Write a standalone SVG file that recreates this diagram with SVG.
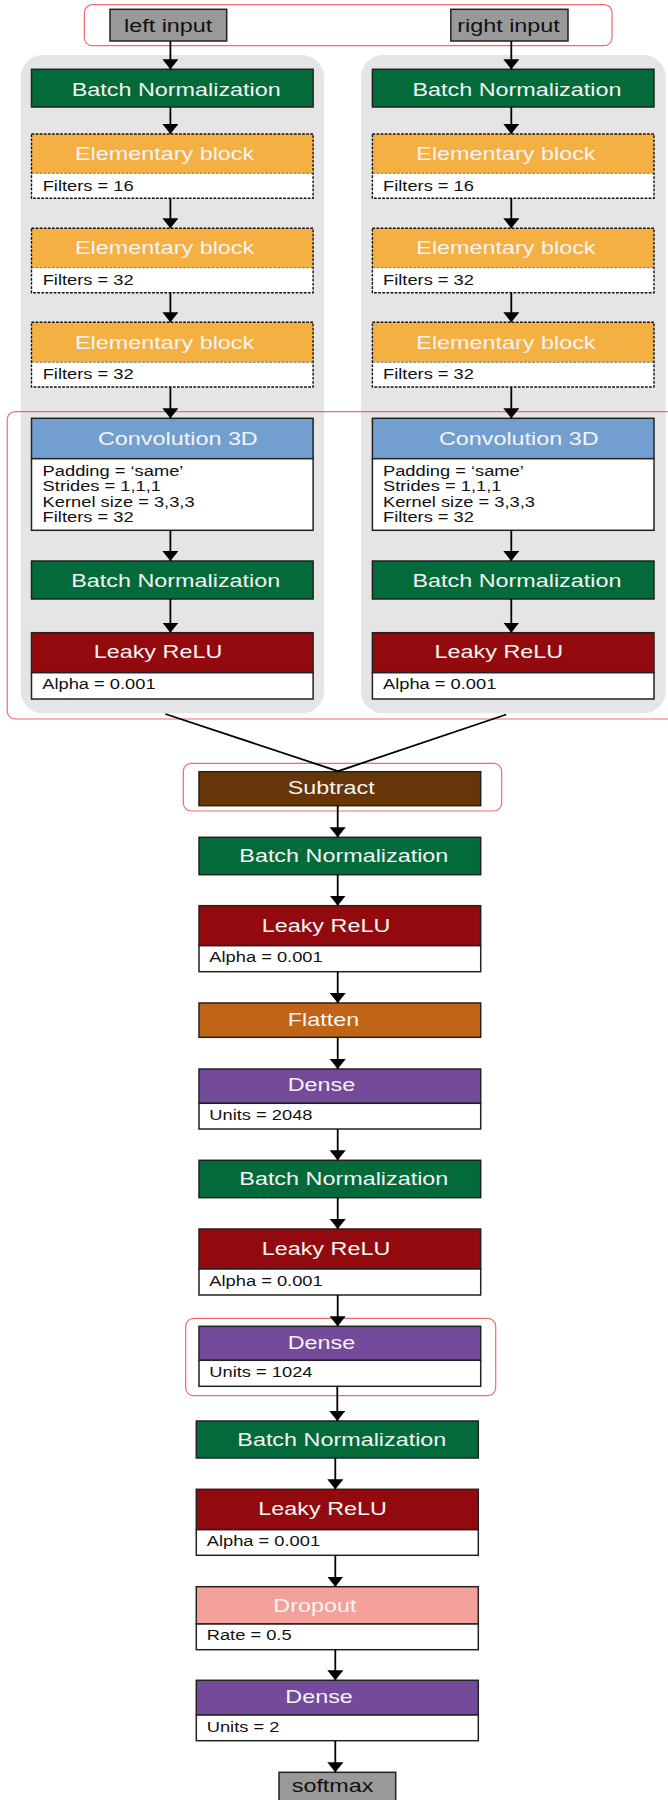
<svg xmlns="http://www.w3.org/2000/svg" width="668" height="1800" viewBox="0 0 668 1800">
<style>
.h{font-family:"Liberation Sans",Arial,sans-serif;font-size:18.7px;fill:#f4f4f4}
.k{font-family:"Liberation Sans",Arial,sans-serif;font-size:18.7px;fill:#111}
.d{font-family:"Liberation Sans",Arial,sans-serif;font-size:15px;fill:#111}
.box{stroke:#222;stroke-width:1.5}
.dot{stroke:#111;stroke-width:1.4;stroke-dasharray:2.7 1.4}
.div{stroke:#555;stroke-width:0.8;stroke-dasharray:2.7 1.4}
.wh{fill:#fff}
.bn{fill:#036a3a}
.eb{fill:#f4b043}
.cv{fill:#729fcf}
.lr{fill:#920a0e}
.sb{fill:#663508}
.fl{fill:#c06418}
.dn{fill:#744a9a}
.dr{fill:#f5a19b}
.gy{fill:#999}
.panel{fill:#e5e5e5}
.red{fill:none;stroke:#f06a6a;stroke-width:1.2}
.c{stroke:#000;stroke-width:1.8;fill:none}
</style>
<defs>
<marker id="ah" markerWidth="10" markerHeight="16" refX="10" refY="8" orient="auto" markerUnits="userSpaceOnUse"><path d="M0,0 L10,8 L0,16 z" fill="#000"/></marker>
</defs>

<g id="panels">
<rect class="panel" x="20.7" y="55" width="303.3" height="658.3" rx="22"/>
<rect class="panel" x="361" y="55" width="304.7" height="658.3" rx="22"/>
</g>

<g id="highlights">
<rect class="red" x="84.4" y="4.7" width="527.6" height="41" rx="8"/>
<rect class="red" x="7.2" y="411.7" width="680" height="307.3" rx="8"/>
<rect class="red" x="183.3" y="763.3" width="318.4" height="47.7" rx="8"/>
<rect class="red" x="185.7" y="1318.3" width="310" height="77.4" rx="8"/>
</g>

<g id="left-input">
<rect class="box gy" x="110" y="9.3" width="116.7" height="31.7"/>
<text class="k" transform="translate(124 31.7) scale(1.25 1)">left input</text>
</g>
<g id="right-input">
<rect class="box gy" x="450.8" y="9.3" width="117.2" height="31.7"/>
<text class="k" transform="translate(457.2 31.7) scale(1.25 1)">right input</text>
</g>

<g id="L-bn1">
<rect class="box bn" x="31.5" y="69.3" width="281.6" height="37.7"/>
<text class="h" transform="translate(71.7 95.7) scale(1.25 1)">Batch Normalization</text>
</g>
<g id="L-eb1">
<rect class="eb" x="31.5" y="134" width="281.6" height="39.3"/>
<rect class="wh" x="31.5" y="173.3" width="281.6" height="25"/>
<rect class="dot" fill="none" x="31.5" y="134" width="281.6" height="64.3"/>
<line class="div" x1="31.5" y1="173.3" x2="313.1" y2="173.3"/>
<text class="h" transform="translate(75 159.5) scale(1.25 1)">Elementary block</text>
<text class="d" transform="translate(42.7 190.7) scale(1.22 1)">Filters = 16</text>
</g>
<g id="L-eb2">
<rect class="eb" x="31.5" y="228.3" width="281.6" height="39.4"/>
<rect class="wh" x="31.5" y="267.7" width="281.6" height="25"/>
<rect class="dot" fill="none" x="31.5" y="228.3" width="281.6" height="64.4"/>
<line class="div" x1="31.5" y1="267.7" x2="313.1" y2="267.7"/>
<text class="h" transform="translate(75 254) scale(1.25 1)">Elementary block</text>
<text class="d" transform="translate(42.7 285.3) scale(1.22 1)">Filters = 32</text>
</g>
<g id="L-eb3">
<rect class="eb" x="31.5" y="322.3" width="281.6" height="40"/>
<rect class="wh" x="31.5" y="362.3" width="281.6" height="24.7"/>
<rect class="dot" fill="none" x="31.5" y="322.3" width="281.6" height="64.7"/>
<line class="div" x1="31.5" y1="362.3" x2="313.1" y2="362.3"/>
<text class="h" transform="translate(75 348.5) scale(1.25 1)">Elementary block</text>
<text class="d" transform="translate(42.7 379.3) scale(1.22 1)">Filters = 32</text>
</g>
<g id="L-conv">
<rect class="box cv" x="31.5" y="418.3" width="281.6" height="40.4"/>
<rect class="box wh" x="31.5" y="458.7" width="281.6" height="71.6"/>
<text class="h" transform="translate(98 445) scale(1.25 1)">Convolution 3D</text>
<text class="d" transform="translate(42.6 475.7) scale(1.22 1)">Padding = ‘same’</text>
<text class="d" transform="translate(42.6 491.3) scale(1.22 1)">Strides = 1,1,1</text>
<text class="d" transform="translate(42.6 507) scale(1.22 1)">Kernel size = 3,3,3</text>
<text class="d" transform="translate(42.6 522.3) scale(1.22 1)">Filters = 32</text>
</g>
<g id="L-bn2">
<rect class="box bn" x="31.5" y="561" width="281.6" height="38"/>
<text class="h" transform="translate(71.2 587.3) scale(1.25 1)">Batch Normalization</text>
</g>
<g id="L-relu">
<rect class="box lr" x="31.5" y="632.7" width="281.6" height="40"/>
<rect class="box wh" x="31.5" y="672.7" width="281.6" height="26.3"/>
<text class="h" transform="translate(93.7 658.3) scale(1.25 1)">Leaky ReLU</text>
<text class="d" transform="translate(42.2 689.3) scale(1.22 1)">Alpha = 0.001</text>
</g>

<g id="R-bn1">
<rect class="box bn" x="372.4" y="69.3" width="281.6" height="37.7"/>
<text class="h" transform="translate(412.4 95.7) scale(1.25 1)">Batch Normalization</text>
</g>
<g id="R-eb1">
<rect class="eb" x="372.4" y="134" width="281.6" height="39.3"/>
<rect class="wh" x="372.4" y="173.3" width="281.6" height="25"/>
<rect class="dot" fill="none" x="372.4" y="134" width="281.6" height="64.3"/>
<line class="div" x1="372.4" y1="173.3" x2="654" y2="173.3"/>
<text class="h" transform="translate(416.3 159.5) scale(1.25 1)">Elementary block</text>
<text class="d" transform="translate(383 190.7) scale(1.22 1)">Filters = 16</text>
</g>
<g id="R-eb2">
<rect class="eb" x="372.4" y="228.3" width="281.6" height="39.4"/>
<rect class="wh" x="372.4" y="267.7" width="281.6" height="25"/>
<rect class="dot" fill="none" x="372.4" y="228.3" width="281.6" height="64.4"/>
<line class="div" x1="372.4" y1="267.7" x2="654" y2="267.7"/>
<text class="h" transform="translate(416.3 254) scale(1.25 1)">Elementary block</text>
<text class="d" transform="translate(383 285.3) scale(1.22 1)">Filters = 32</text>
</g>
<g id="R-eb3">
<rect class="eb" x="372.4" y="322.3" width="281.6" height="40"/>
<rect class="wh" x="372.4" y="362.3" width="281.6" height="24.7"/>
<rect class="dot" fill="none" x="372.4" y="322.3" width="281.6" height="64.7"/>
<line class="div" x1="372.4" y1="362.3" x2="654" y2="362.3"/>
<text class="h" transform="translate(416.3 348.5) scale(1.25 1)">Elementary block</text>
<text class="d" transform="translate(383 379.3) scale(1.22 1)">Filters = 32</text>
</g>
<g id="R-conv">
<rect class="box cv" x="372.4" y="418.3" width="281.6" height="40.4"/>
<rect class="box wh" x="372.4" y="458.7" width="281.6" height="71.6"/>
<text class="h" transform="translate(438.9 445) scale(1.25 1)">Convolution 3D</text>
<text class="d" transform="translate(383 475.7) scale(1.22 1)">Padding = ‘same’</text>
<text class="d" transform="translate(383 491.3) scale(1.22 1)">Strides = 1,1,1</text>
<text class="d" transform="translate(383 507) scale(1.22 1)">Kernel size = 3,3,3</text>
<text class="d" transform="translate(383 522.3) scale(1.22 1)">Filters = 32</text>
</g>
<g id="R-bn2">
<rect class="box bn" x="372.4" y="561" width="281.6" height="38"/>
<text class="h" transform="translate(412.4 587.3) scale(1.25 1)">Batch Normalization</text>
</g>
<g id="R-relu">
<rect class="box lr" x="372.4" y="632.7" width="281.6" height="40"/>
<rect class="box wh" x="372.4" y="672.7" width="281.6" height="26.3"/>
<text class="h" transform="translate(434.6 658.3) scale(1.25 1)">Leaky ReLU</text>
<text class="d" transform="translate(383 689.3) scale(1.22 1)">Alpha = 0.001</text>
</g>

<g id="subtract">
<rect class="box sb" x="199" y="771.7" width="281.7" height="34"/>
<text class="h" transform="translate(287.7 794) scale(1.25 1)">Subtract</text>
</g>
<g id="bn3">
<rect class="box bn" x="199" y="837.3" width="281.7" height="37.4"/>
<text class="h" transform="translate(239.3 862) scale(1.25 1)">Batch Normalization</text>
</g>
<g id="relu3">
<rect class="box lr" x="199" y="905.7" width="281.7" height="40"/>
<rect class="box wh" x="199" y="945.7" width="281.7" height="26"/>
<text class="h" transform="translate(261.7 931.7) scale(1.25 1)">Leaky ReLU</text>
<text class="d" transform="translate(209.3 962.3) scale(1.22 1)">Alpha = 0.001</text>
</g>
<g id="flatten">
<rect class="box fl" x="199" y="1003" width="281.7" height="34.3"/>
<text class="h" transform="translate(287.7 1026) scale(1.25 1)">Flatten</text>
</g>
<g id="dense1">
<rect class="box dn" x="199" y="1069" width="281.7" height="34.3"/>
<rect class="box wh" x="199" y="1103.3" width="281.7" height="25.7"/>
<text class="h" transform="translate(287.7 1090.7) scale(1.25 1)">Dense</text>
<text class="d" transform="translate(209.3 1120) scale(1.22 1)">Units = 2048</text>
</g>
<g id="bn4">
<rect class="box bn" x="199" y="1160.3" width="281.7" height="37.4"/>
<text class="h" transform="translate(239.3 1185.3) scale(1.25 1)">Batch Normalization</text>
</g>
<g id="relu4">
<rect class="box lr" x="199" y="1229" width="281.7" height="40"/>
<rect class="box wh" x="199" y="1269" width="281.7" height="26"/>
<text class="h" transform="translate(261.7 1254.7) scale(1.25 1)">Leaky ReLU</text>
<text class="d" transform="translate(209.3 1285.7) scale(1.22 1)">Alpha = 0.001</text>
</g>
<g id="dense2">
<rect class="box dn" x="199" y="1326.3" width="281.7" height="34"/>
<rect class="box wh" x="199" y="1360.3" width="281.7" height="26"/>
<text class="h" transform="translate(287.7 1349) scale(1.25 1)">Dense</text>
<text class="d" transform="translate(209.3 1376.7) scale(1.22 1)">Units = 1024</text>
</g>
<g id="bn5">
<rect class="box bn" x="196.3" y="1421" width="282" height="37"/>
<text class="h" transform="translate(237.3 1445.7) scale(1.25 1)">Batch Normalization</text>
</g>
<g id="relu5">
<rect class="box lr" x="196.3" y="1489.3" width="282" height="40.4"/>
<rect class="box wh" x="196.3" y="1529.7" width="282" height="25.6"/>
<text class="h" transform="translate(258.3 1515) scale(1.25 1)">Leaky ReLU</text>
<text class="d" transform="translate(206.7 1545.7) scale(1.22 1)">Alpha = 0.001</text>
</g>
<g id="dropout">
<rect class="box dr" x="196.3" y="1586.7" width="282" height="37.3"/>
<rect class="box wh" x="196.3" y="1624" width="282" height="25.7"/>
<text class="h" transform="translate(273.3 1611.7) scale(1.25 1)">Dropout</text>
<text class="d" transform="translate(206.7 1640.3) scale(1.22 1)">Rate = 0.5</text>
</g>
<g id="dense3">
<rect class="box dn" x="196.3" y="1680.3" width="282" height="34.7"/>
<rect class="box wh" x="196.3" y="1715" width="282" height="25.7"/>
<text class="h" transform="translate(285.3 1702.7) scale(1.25 1)">Dense</text>
<text class="d" transform="translate(206.7 1731.7) scale(1.22 1)">Units = 2</text>
</g>
<g id="softmax">
<rect class="box gy" x="279" y="1772.3" width="116.7" height="35"/>
<text class="k" transform="translate(291.7 1791.7) scale(1.25 1)">softmax</text>
</g>

<g id="connectors">
<line class="c" x1="170.4" y1="41" x2="170.4" y2="69.3" marker-end="url(#ah)"/>
<line class="c" x1="170.4" y1="107" x2="170.4" y2="134" marker-end="url(#ah)"/>
<line class="c" x1="170.4" y1="198.3" x2="170.4" y2="228.3" marker-end="url(#ah)"/>
<line class="c" x1="170.4" y1="292.7" x2="170.4" y2="322.3" marker-end="url(#ah)"/>
<line class="c" x1="170.4" y1="387" x2="170.4" y2="418.3" marker-end="url(#ah)"/>
<line class="c" x1="170.4" y1="530.3" x2="170.4" y2="561" marker-end="url(#ah)"/>
<line class="c" x1="170.4" y1="599" x2="170.4" y2="632.7" marker-end="url(#ah)"/>
<line class="c" x1="511.3" y1="41" x2="511.3" y2="69.3" marker-end="url(#ah)"/>
<line class="c" x1="511.3" y1="107" x2="511.3" y2="134" marker-end="url(#ah)"/>
<line class="c" x1="511.3" y1="198.3" x2="511.3" y2="228.3" marker-end="url(#ah)"/>
<line class="c" x1="511.3" y1="292.7" x2="511.3" y2="322.3" marker-end="url(#ah)"/>
<line class="c" x1="511.3" y1="387" x2="511.3" y2="418.3" marker-end="url(#ah)"/>
<line class="c" x1="511.3" y1="530.3" x2="511.3" y2="561" marker-end="url(#ah)"/>
<line class="c" x1="511.3" y1="599" x2="511.3" y2="632.7" marker-end="url(#ah)"/>
<polyline class="c" stroke-width="1.5" points="165.4,714 338,771.2 506.3,714.5"/>
<line class="c" x1="337.7" y1="805.7" x2="337.7" y2="837.3" marker-end="url(#ah)"/>
<line class="c" x1="337.7" y1="874.7" x2="337.7" y2="905.7" marker-end="url(#ah)"/>
<line class="c" x1="337.7" y1="971.7" x2="337.7" y2="1003" marker-end="url(#ah)"/>
<line class="c" x1="337.7" y1="1037.3" x2="337.7" y2="1069" marker-end="url(#ah)"/>
<line class="c" x1="337.7" y1="1129" x2="337.7" y2="1160.3" marker-end="url(#ah)"/>
<line class="c" x1="337.7" y1="1197.7" x2="337.7" y2="1229" marker-end="url(#ah)"/>
<line class="c" x1="337.7" y1="1295" x2="337.7" y2="1326.3" marker-end="url(#ah)"/>
<line class="c" x1="337.3" y1="1386.3" x2="337.3" y2="1421" marker-end="url(#ah)"/>
<line class="c" x1="335.3" y1="1458" x2="335.3" y2="1489.3" marker-end="url(#ah)"/>
<line class="c" x1="335.3" y1="1555.3" x2="335.3" y2="1586.7" marker-end="url(#ah)"/>
<line class="c" x1="335.3" y1="1649.7" x2="335.3" y2="1680.3" marker-end="url(#ah)"/>
<line class="c" x1="335.3" y1="1740.7" x2="335.3" y2="1772.3" marker-end="url(#ah)"/>
</g>
</svg>
